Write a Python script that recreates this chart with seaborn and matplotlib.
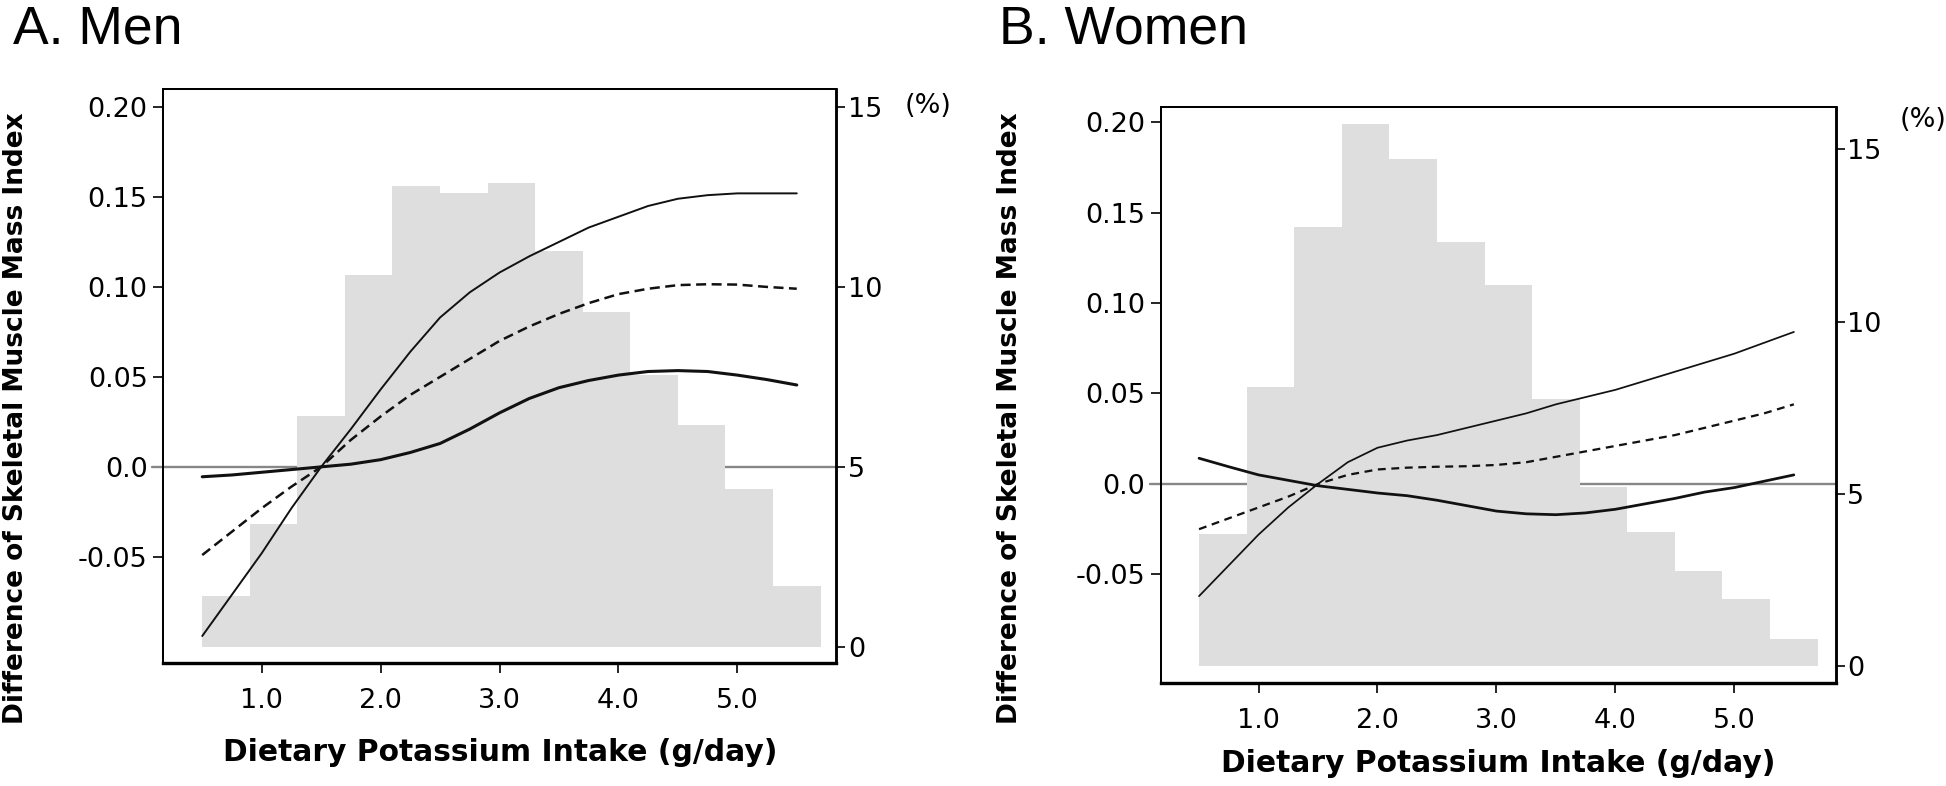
import numpy as np
import matplotlib
matplotlib.use("Agg")
import matplotlib.pyplot as plt
import matplotlib.transforms as mtransforms
import seaborn as sns

# x grid of the fitted curves (g/day)
intake = [0.5, 0.75, 1.0, 1.25, 1.5, 1.75, 2.0, 2.25, 2.5, 2.75, 3.0,
          3.25, 3.5, 3.75, 4.0, 4.25, 4.5, 4.75, 5.0, 5.25, 5.5]

# Men: difference of SMI (estimate and 95% CI)
men_upper = [-0.094, -0.071, -0.048, -0.023, 0.0, 0.021, 0.043, 0.064, 0.083, 0.097, 0.108,
             0.117, 0.125, 0.133, 0.139, 0.145, 0.149, 0.151, 0.152, 0.152, 0.152]
men_est = [-0.049, -0.036, -0.023, -0.011, 0.0, 0.015, 0.028, 0.040, 0.050, 0.060, 0.070,
           0.078, 0.085, 0.091, 0.096, 0.099, 0.101, 0.1015, 0.1013, 0.100, 0.099]
men_lower = [-0.0055, -0.0045, -0.003, -0.0015, 0.0, 0.0015, 0.004, 0.008, 0.013, 0.021, 0.030,
             0.038, 0.044, 0.048, 0.051, 0.053, 0.0535, 0.053, 0.051, 0.0485, 0.0455]

# Women
women_upper = [-0.062, -0.045, -0.028, -0.013, 0.0, 0.012, 0.020, 0.024, 0.027, 0.031, 0.035,
               0.039, 0.044, 0.048, 0.052, 0.057, 0.062, 0.067, 0.072, 0.078, 0.084]
women_est = [-0.025, -0.019, -0.013, -0.007, 0.0, 0.005, 0.008, 0.009, 0.0095, 0.0098, 0.0105,
             0.012, 0.015, 0.018, 0.021, 0.024, 0.027, 0.031, 0.035, 0.039, 0.044]
women_lower = [0.0142, 0.0095, 0.005, 0.002, -0.001, -0.003, -0.005, -0.0065, -0.009, -0.012, -0.015,
               -0.0165, -0.017, -0.016, -0.014, -0.011, -0.008, -0.0045, -0.002, 0.0015, 0.005]

# histogram of intake distribution (%)
bin_edges = [0.5, 0.9, 1.3, 1.7, 2.1, 2.5, 2.9, 3.3, 3.7, 4.1, 4.5, 4.9, 5.3, 5.7]
men_pct = [1.41, 3.41, 6.42, 10.34, 12.80, 12.60, 12.89, 10.99, 9.31, 7.55, 6.15, 4.38, 1.69]
women_pct = [3.83, 8.09, 12.75, 15.75, 14.71, 12.31, 11.05, 7.74, 5.19, 3.89, 2.77, 1.94, 0.79]

left_ticks = [-0.05, 0.0, 0.05, 0.10, 0.15, 0.20]
left_labels = ["-0.05", "0.0", "0.05", "0.10", "0.15", "0.20"]
x_ticks = [1.0, 2.0, 3.0, 4.0, 5.0]
x_labels = ["1.0", "2.0", "3.0", "4.0", "5.0"]
pct_ticks = [0, 5, 10, 15]

sns.set_style("ticks")
plt.rcParams['font.family'] = ['DejaVu Sans']
plt.rcParams['text.color'] = 'black'
plt.rcParams['xtick.color'] = 'black'
plt.rcParams['ytick.color'] = 'black'
plt.rcParams['xtick.labelcolor'] = 'black'
plt.rcParams['ytick.labelcolor'] = 'black'

W, H = 1946, 786
fig = plt.figure(figsize=(W / 100, H / 100), dpi=100)


def panel(box, upper, est, lower, pct, xlim, ylim, ylim2, lw_scale, dash):
    l, t, r, b = box
    ax = fig.add_axes([l / W, 1 - b / H, (r - l) / W, (b - t) / H])
    ax2 = ax.twinx()
    ax.set_zorder(ax2.get_zorder() + 1)
    ax.patch.set_visible(False)

    # reference line at 0, under the histogram
    trans = mtransforms.blended_transform_factory(ax2.transAxes, ax.transData)
    ax2.plot([-0.016, 1.0], [0, 0], color="#878787", lw=1.7, transform=trans,
             clip_on=False, zorder=0.5)

    centers = (np.array(bin_edges[:-1]) + np.array(bin_edges[1:])) / 2
    sns.histplot(x=centers, weights=pct, bins=bin_edges, ax=ax2, color="#dedede",
                 alpha=1, edgecolor="none", linewidth=0, zorder=1)

    sns.lineplot(x=intake, y=upper, ax=ax, color="#111111", lw=1.4 * lw_scale)
    sns.lineplot(x=intake, y=est, ax=ax, color="#111111", lw=1.8 * lw_scale,
                 dashes=False).lines[-1].set_dashes(dash)
    sns.lineplot(x=intake, y=lower, ax=ax, color="#111111", lw=2.2 * lw_scale)

    ax.set_xlim(*xlim)
    ax.set_ylim(*ylim)
    ax2.set_ylim(*ylim2)
    ax2.set_xlim(*xlim)

    ax.set_xticks(x_ticks)
    ax.set_xticklabels(x_labels)
    ax.set_yticks(left_ticks)
    ax.set_yticklabels(left_labels)
    ax2.set_yticks(pct_ticks)
    ax2.set_yticklabels([str(p) for p in pct_ticks])
    ax.set_xlabel("")
    ax.set_ylabel("")
    ax2.set_ylabel("")

    ax.tick_params(axis="both", length=7, width=1.2, labelsize=19.5, pad=4, color="black")
    ax.tick_params(axis="x", pad=11)
    ax2.tick_params(axis="y", length=6.5, width=1.2, labelsize=19.5, pad=2, color="black")
    # the 0.0 tick is the extension of the grey reference line
    ax.get_yticklines()[2].set_visible(False)

    for a in (ax, ax2):
        for s in a.spines.values():
            s.set_visible(True)
            s.set_color("black")
        a.spines["left"].set_linewidth(1.4)
        a.spines["top"].set_linewidth(1.4)
        a.spines["right"].set_linewidth(1.8)
        a.spines["bottom"].set_linewidth(2.3)
    return ax, ax2


panel((163, 89, 836, 663), men_upper, men_est, men_lower, men_pct,
      (0.17, 5.83), (-0.109, 0.21), (-0.45, 15.5), 1.0, (4, 2.2))
panel((1160.5, 107, 1835.5, 683), women_upper, women_est, women_lower, women_pct,
      (0.176, 5.85), (-0.11, 0.2083), (-0.49, 16.23), 0.9, (3.5, 2.5))

# panel titles
title_font = ["Liberation Sans", "DejaVu Sans"]
fig.text(13 / W, 1 - 43 / H, "A. Men", fontsize=38.5, va="baseline", ha="left", family=title_font)
fig.text(999 / W, 1 - 43 / H, "B. Women", fontsize=38.5, va="baseline", ha="left", family=title_font)

# axis titles
ylab = "Difference of Skeletal Muscle Mass Index"
fig.text(16 / W, 1 - 418 / H, ylab, rotation=90, fontsize=19, fontweight="bold",
         ha="center", va="center")
fig.text(1010 / W, 1 - 418 / H, ylab, rotation=90, fontsize=19, fontweight="bold",
         ha="center", va="center")
xlab = "Dietary Potassium Intake (g/day)"
fig.text(500 / W, 1 - 761 / H, xlab, fontsize=21.4, fontweight="bold", ha="center", va="baseline")
fig.text(1498 / W, 1 - 772 / H, xlab, fontsize=21.4, fontweight="bold", ha="center", va="baseline")

# unit of the right axis
fig.text(928 / W, 1 - 106 / H, "(%)", fontsize=19.5, ha="center", va="center")
fig.text(1923 / W, 1 - 120 / H, "(%)", fontsize=19.5, ha="center", va="center")

fig.savefig("out.png", dpi=100)
